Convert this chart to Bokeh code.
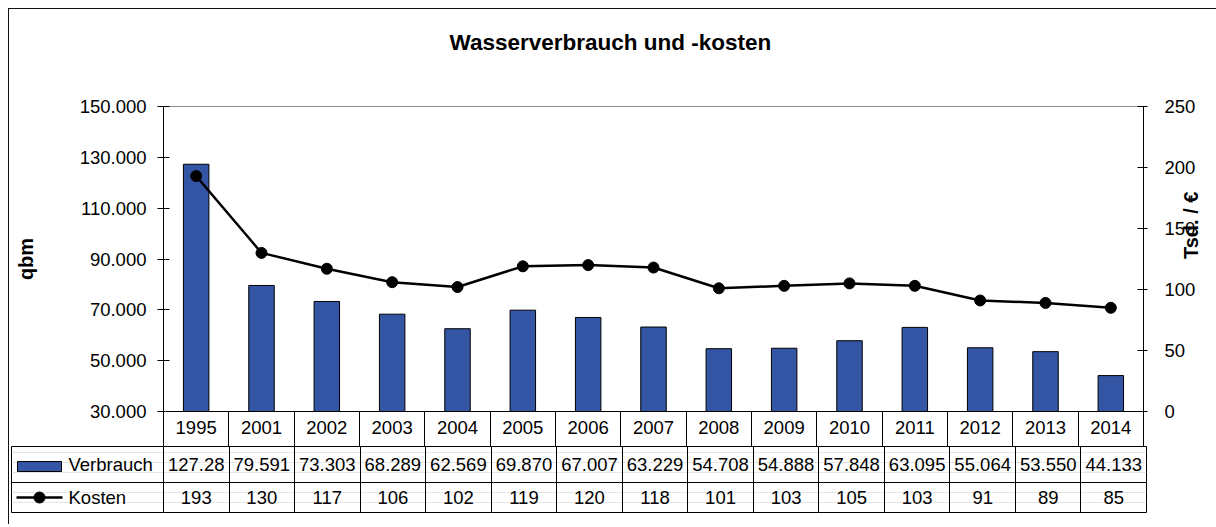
import math
from bokeh.plotting import figure
from bokeh.models import (Range1d, LinearAxis, FixedTicker, Title,
                          CustomJSTickFormatter, Grid, ColumnDataSource)
from bokeh.layouts import column
from bokeh.core.properties import value
from bokeh.embed import file_html
from bokeh.resources import INLINE

# ---------------- data ----------------
years = ["1995", "2001", "2002", "2003", "2004", "2005", "2006", "2007",
         "2008", "2009", "2010", "2011", "2012", "2013", "2014"]
verbrauch = [127280, 79591, 73303, 68289, 62569, 69870, 67007, 63229,
             54708, 54888, 57848, 63095, 55064, 53550, 44133]
kosten = [193, 130, 117, 106, 102, 119, 120, 118, 101, 103, 105, 103, 91, 89, 85]
left_ticks = [30000, 50000, 70000, 90000, 110000, 130000, 150000]
right_ticks = [0, 50, 100, 150, 200, 250]
series_names = ["Verbrauch", "Kosten"]
title_text = "Wasserverbrauch und -kosten"
left_label = "qbm"
right_label = "Tsd. / €"

# ---------------- style / layout ----------------
FONT = "Liberation Sans"
BAR = "#3454a4"
TXT = "18.5px"

W = 1207                     # canvas width
CX0, CY0 = 9, 9              # canvas origin on page (after 1px border)
FL, FR, FT, FB = 163, 1146, 106, 411   # plot frame on page
ROW1_B = 446                 # bottom of the year row
TABLE_B = 512                # bottom of table
TABLE_L = 11                 # left of table
H1 = ROW1_B - CY0
H2 = 524 - ROW1_B

n = len(years)
unit = (FR - FL) / n
xs = [i + 0.5 for i in range(n)]          # category centres


def de(v):
    return f"{v:,}".replace(",", ".")


def cell(v):
    # the cell clips text wider than the column
    return de(v)[:6]


src = ColumnDataSource(data=dict(x=xs, year=years, verbrauch=verbrauch, kosten=kosten))

# ---------------- chart ----------------
p1 = figure(width=W, height=H1, x_range=Range1d(0, n),
            y_range=Range1d(left_ticks[0], left_ticks[-1]), title=None,
            output_backend="svg", toolbar_location=None,
            x_axis_location=None, y_axis_location=None,
            min_border_left=FL - CX0, min_border_right=CX0 + W - FR,
            min_border_top=FT - CY0, min_border_bottom=ROW1_B - FB,
            background_fill_color="white", border_fill_color="white",
            outline_line_color="#8c8c8c", outline_line_width=1)
p1.frame_align = False
for g in p1.grid:
    g.visible = False
p1.extra_y_ranges = {"kosten": Range1d(right_ticks[0], right_ticks[-1])}

# spacer title (closest to the frame) pushes the real title up
p1.add_layout(Title(text=" ", text_font_size="1px", standoff=44), "above")
p1.add_layout(Title(text=title_text, text_font=FONT, text_font_style="bold",
                    text_font_size="22.5px", text_color="black",
                    align="left", offset=286, standoff=10), "above")

label_kw = dict(major_label_text_font=FONT, major_label_text_font_size=TXT,
                major_label_text_color="black", axis_line_color="black",
                major_tick_line_color="black")
title_kw = dict(axis_label_text_font=FONT, axis_label_text_font_style="bold",
                axis_label_text_font_size="20px", axis_label_text_color="black")

ya = LinearAxis(ticker=FixedTicker(ticks=left_ticks),
                formatter=CustomJSTickFormatter(code=r"return Math.round(tick).toString().replace(/\B(?=(\d{3})+(?!\d))/g, '.');"),
                major_tick_in=6, major_tick_out=6, minor_tick_in=0, minor_tick_out=0,
                major_label_standoff=11,
                axis_label=left_label, axis_label_standoff=40,
                **title_kw, **label_kw)
p1.add_layout(ya, "left")

yr = LinearAxis(y_range_name="kosten", ticker=FixedTicker(ticks=right_ticks),
                major_tick_in=6, major_tick_out=4, minor_tick_in=0, minor_tick_out=0,
                major_label_standoff=17,
                axis_label=right_label, axis_label_standoff=-7,
                **title_kw, **label_kw)
if "axis_label_orientation" in yr.properties():
    yr.axis_label_orientation = math.pi / 2
p1.add_layout(yr, "right")

xa = LinearAxis(ticker=FixedTicker(ticks=xs, minor_ticks=list(range(n + 1))),
                formatter=CustomJSTickFormatter(args=dict(labels=years),
                                                code="return labels[Math.floor(tick)];"),
                major_tick_in=0, major_tick_out=0,
                minor_tick_in=0, minor_tick_out=ROW1_B - FB,
                minor_tick_line_color="black", minor_tick_line_width=1,
                major_label_standoff=-26, **label_kw)
p1.add_layout(xa, "below")

p1.vbar(x="x", top="verbrauch", width=0.39, source=src, fill_color=BAR,
        line_color="black", line_width=1)
p1.line(x="x", y="kosten", source=src, y_range_name="kosten",
        line_color="black", line_width=2.5)
p1.scatter(x="x", y="kosten", source=src, y_range_name="kosten", size=11,
           fill_color="black", line_color="black")

# ---------------- data table ----------------
TH = TABLE_B - ROW1_B
ROW_SPLIT = TABLE_B - 482


def px(xpage):
    return (xpage - FL) / unit


def py(ypage):
    return TABLE_B - ypage


p2 = figure(width=W, height=H2,
            x_range=Range1d(-(FL - TABLE_L) / unit, n), y_range=Range1d(0, TH),
            output_backend="svg", toolbar_location=None,
            x_axis_location=None, y_axis_location=None,
            min_border_left=TABLE_L - CX0, min_border_right=CX0 + W - FR,
            min_border_top=0, min_border_bottom=H2 - TH,
            background_fill_color="white", border_fill_color="white",
            outline_line_color="black", outline_line_width=1)
p2.frame_align = False
p2.add_layout(Grid(dimension=0, ticker=FixedTicker(ticks=list(range(n + 1))),
                   grid_line_color="black", grid_line_width=1))
p2.add_layout(Grid(dimension=1, ticker=FixedTicker(ticks=[ROW_SPLIT]),
                   grid_line_color="black", grid_line_width=1))

y_v = (TH + ROW_SPLIT) / 2
y_k = ROW_SPLIT / 2
tkw = dict(text_font=value(FONT), text_font_size=TXT, text_color="black",
           text_baseline="middle")
p2.text(x=xs, y=[y_v] * n, text=[cell(v) for v in verbrauch], text_align="center", **tkw)
p2.text(x=xs, y=[y_k] * n, text=[str(v) for v in kosten], text_align="center", **tkw)
p2.text(x=[px(68)] * 2, y=[y_v, y_k], text=series_names, text_align="left", **tkw)

# legend keys
p2.quad(left=px(17), right=px(61), bottom=py(471), top=py(461),
        fill_color=BAR, line_color="black", line_width=1)
p2.line(x=[px(16), px(62)], y=[y_k, y_k], line_color="black", line_width=2.5)
p2.scatter(x=[px(39)], y=[y_k], size=11, fill_color="black", line_color="black")

layout = column(p1, p2, spacing=0,
                styles={"margin-left": "8px", "margin-top": "8px",
                        "border-top": "1px solid #111", "border-left": "1px solid #111"})

open("out.html", "w").write(file_html(layout, INLINE))
